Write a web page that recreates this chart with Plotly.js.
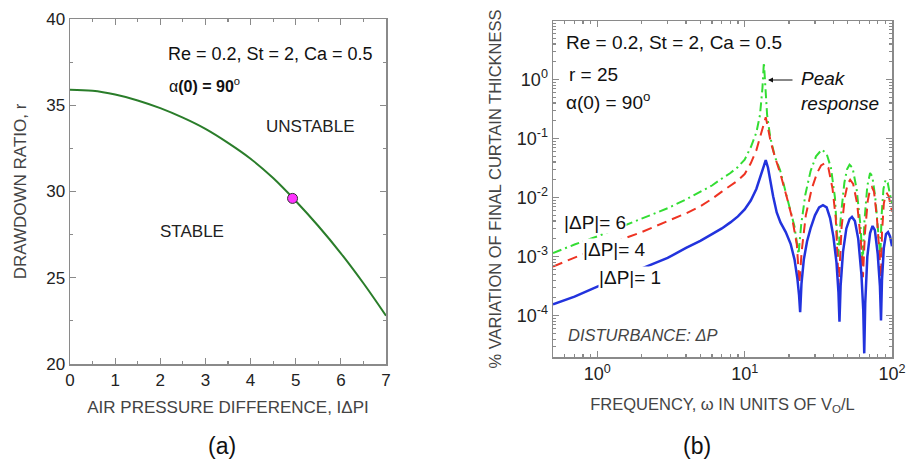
<!DOCTYPE html>
<html>
<head>
<meta charset="utf-8">
<script src="https://cdn.plot.ly/plotly-3.0.1.min.js"></script>
<style>html,body{margin:0;padding:0;background:#fff;}#chart{width:908px;height:466px;}</style>
</head>
<body>
<div id="chart"></div>
<script>
// ---------- Panel (a): neutral stability curve ----------
const dP_a = [0, 0.5, 1, 1.5, 2, 2.5, 3, 3.5, 4, 4.5, 5, 5.5, 6, 6.5, 7];
const r_a  = [35.9, 35.84, 35.62, 35.28, 34.83, 34.28, 33.63, 32.82, 31.9, 30.78, 29.45, 28.0, 26.42, 24.68, 22.8];
const dotX = [4.93];
const dotY = [29.6];

// ---------- Panel (b): frequency response ----------
const w1 = [0.5, 0.7, 1, 1.5, 2, 3, 4, 5, 6, 7, 8, 9, 10, 11, 12, 12.8, 13.4, 13.9, 14.4, 15, 15.6, 16.5, 17.5, 19, 20.5, 21.8, 22.8, 23.4, 23.8, 24.3, 25.2, 26.5, 28, 30, 32, 34, 36, 38, 40, 42, 43.3, 44, 44.8, 46.5, 49, 51.5, 53.5, 56, 59, 62, 63.8, 64.8, 65.8, 68, 71, 73.8, 76.5, 80, 82.8, 84.2, 85.5, 88, 91, 94, 97, 100];
const v1 = [1.55e-4, 2.1e-4, 3.1e-4, 4.7e-4, 6.2e-4, 9.5e-4, 1.4e-3, 1.85e-3, 2.4e-3, 3.0e-3, 3.8e-3, 4.8e-3, 6.3e-3, 8.9e-3, 0.014, 0.023, 0.034, 0.043, 0.032, 0.018, 0.0105, 5.6e-3, 3.8e-3, 2.6e-3, 1.65e-3, 8.9e-4, 4.2e-4, 2.2e-4, 1.15e-4, 3.5e-4, 8.9e-4, 1.8e-3, 3.0e-3, 5.0e-3, 6.8e-3, 7.4e-3, 6.8e-3, 4.5e-3, 2.2e-3, 7.9e-4, 2.5e-4, 7.9e-5, 3.2e-4, 1.2e-3, 3.0e-3, 4.3e-3, 4.7e-3, 4.0e-3, 2.0e-3, 5.0e-4, 1.26e-4, 2.3e-5, 1.6e-4, 1.0e-3, 2.5e-3, 3.3e-3, 2.8e-3, 1.1e-3, 3.2e-4, 8.3e-5, 4.0e-4, 1.4e-3, 2.4e-3, 2.6e-3, 2.2e-3, 1.5e-3];

const w4 = [0.5, 0.7, 1, 1.5, 2, 3, 4, 5, 6, 7, 8, 9, 10, 11, 12, 12.8, 13.4, 13.9, 14.4, 15, 16, 17.5, 19.3, 21, 22.6, 23.5, 24.4, 26, 28.5, 31, 33, 35, 37, 39.5, 41.5, 43.5, 45.5, 48, 50, 52, 54.5, 58, 61.5, 63.5, 65.5, 68.5, 71, 73, 75.5, 79, 82.5, 84, 85.5, 88, 90.5, 92.5, 95, 100];
const v4 = [6.8e-4, 9.5e-4, 1.38e-3, 2.0e-3, 2.6e-3, 4.0e-3, 5.4e-3, 7.1e-3, 9.5e-3, 0.0126, 0.0158, 0.0195, 0.025, 0.038, 0.063, 0.107, 0.166, 0.23, 0.15, 0.089, 0.05, 0.025, 0.0102, 4.5e-3, 1.6e-3, 3.5e-4, 1.26e-3, 5.0e-3, 0.014, 0.026, 0.035, 0.038, 0.032, 0.014, 4.5e-3, 3.2e-4, 3.2e-3, 0.0105, 0.017, 0.02, 0.017, 7.9e-3, 1.8e-3, 4.5e-4, 2.5e-3, 8.9e-3, 0.0138, 0.015, 0.0126, 4.5e-3, 1.0e-3, 3.2e-4, 2.5e-3, 7.9e-3, 0.0112, 0.0117, 0.0105, 5.8e-3];

const w6 = [0.5, 0.7, 1, 1.5, 2, 3, 4, 5, 6, 7, 8, 9, 10, 11, 12, 12.7, 13.2, 13.5, 13.8, 14.2, 14.9, 16, 17.4, 18.8, 20.3, 21.8, 23.2, 24.2, 25.8, 28, 30.5, 33.4, 36, 38.5, 41, 43.2, 45, 47.5, 49.5, 51.5, 54, 57.5, 61, 63.3, 65, 68, 71, 73.5, 77, 80.5, 83.3, 85, 87.5, 90.5, 93.5, 97, 100];
const v6 = [1.15e-3, 1.6e-3, 2.2e-3, 3.3e-3, 4.4e-3, 6.6e-3, 9.3e-3, 0.0126, 0.016, 0.021, 0.026, 0.033, 0.044, 0.071, 0.126, 0.25, 0.71, 1.95, 0.8, 0.25, 0.107, 0.05, 0.029, 0.014, 6.9e-3, 3.2e-3, 1.1e-3, 3.5e-3, 0.0112, 0.028, 0.05, 0.065, 0.055, 0.032, 0.01, 1.0e-3, 5.0e-3, 0.0178, 0.030, 0.036, 0.032, 0.014, 3.5e-3, 7.9e-4, 4.0e-3, 0.0158, 0.026, 0.023, 0.01, 3.2e-3, 1.0e-3, 5.0e-3, 0.014, 0.020, 0.0178, 0.0112, 7.9e-3];

const xTickVals_b = [1, 10, 100];
const xTickText_b = ['10<sup>0</sup>', '10<sup>1</sup>', '10<sup>2</sup>'];
const yTickVals_b = [1e-4, 1e-3, 1e-2, 1e-1, 1];
const yTickText_b = ['10<sup>-4</sup>', '10<sup>-3</sup>', '10<sup>-2</sup>', '10<sup>-1</sup>', '10<sup>0</sup>'];

const FONT = 'Liberation Sans, Arial, Helvetica, sans-serif';
const AX = '#8a8a8a';

const traces = [
  {x: dP_a, y: r_a, type: 'scatter', mode: 'lines', line: {color: '#2a7d2a', width: 2, shape: 'spline'}, xaxis: 'x', yaxis: 'y', hoverinfo: 'skip'},
  {x: dotX, y: dotY, type: 'scatter', mode: 'markers', marker: {color: '#ff33ff', size: 10, line: {color: '#333', width: 1}}, xaxis: 'x', yaxis: 'y'},
  {x: w6, y: v6, type: 'scatter', mode: 'lines', name: '|ΔP|= 6', line: {color: '#33dd33', width: 2, dash: '9px,4px,2px,4px'}, xaxis: 'x2', yaxis: 'y2'},
  {x: w4, y: v4, type: 'scatter', mode: 'lines', name: '|ΔP|= 4', line: {color: '#ee3322', width: 2, dash: '10px,6px'}, xaxis: 'x2', yaxis: 'y2'},
  {x: w1, y: v1, type: 'scatter', mode: 'lines', name: '|ΔP|= 1', line: {color: '#2233dd', width: 2.5}, xaxis: 'x2', yaxis: 'y2'}
];

const common = {
  showline: true, linecolor: AX, linewidth: 1.5, mirror: 'ticks',
  ticks: 'inside', ticklen: 6, tickwidth: 1.2, tickcolor: AX,
  showgrid: false, zeroline: false,
  tickfont: {family: FONT, size: 17, color: '#222'}
};

function note(px, py, text, size, opts) {
  return Object.assign({xref: 'paper', yref: 'paper', x: px / 908, y: 1 - py / 466,
    xanchor: 'center', yanchor: 'middle', text: text, showarrow: false,
    font: {family: FONT, size: size, color: '#111'}}, opts || {});
}

const layout = {
  width: 908, height: 466,
  margin: {l: 0, r: 0, t: 0, b: 0},
  paper_bgcolor: '#fff', plot_bgcolor: '#fff',
  showlegend: false,
  font: {family: FONT, color: '#222'},
  xaxis: Object.assign({}, common, {
    domain: [70/908, 386/908], anchor: 'y', range: [0, 7], dtick: 1, tick0: 0,
    minor: {dtick: 0.5, ticks: 'inside', ticklen: 3, tickcolor: AX},
    title: {text: 'AIR PRESSURE DIFFERENCE, IΔPI', font: {family: FONT, size: 17, color: '#444'}, standoff: 12}
  }),
  yaxis: Object.assign({}, common, {
    domain: [1 - 364/466, 1 - 19/466], anchor: 'x', range: [20, 40], dtick: 5, tick0: 20,
    minor: {dtick: 2.5, ticks: 'inside', ticklen: 3, tickcolor: AX},
    title: {text: 'DRAWDOWN RATIO, r', font: {family: FONT, size: 17, color: '#444'}, standoff: 15}
  }),
  xaxis2: Object.assign({}, common, {
    domain: [553/908, 892/908], anchor: 'y2', type: 'log', range: [Math.log10(0.5), 2],
    tickmode: 'array', tickvals: xTickVals_b, ticktext: xTickText_b,
    tickfont: {family: FONT, size: 18, color: '#222'},
    minor: {dtick: 'D1', ticks: 'inside', ticklen: 3, tickcolor: AX},
    title: {text: 'FREQUENCY, ω IN UNITS OF V<sub>O</sub>/L', font: {family: FONT, size: 16.5, color: '#444'}, standoff: 15}
  }),
  yaxis2: Object.assign({}, common, {
    domain: [1 - 357/466, 1 - 21/466], anchor: 'x2', type: 'log', range: [-4.7, 0.99],
    tickmode: 'array', tickvals: yTickVals_b, ticktext: yTickText_b,
    tickfont: {family: FONT, size: 18, color: '#222'},
    minor: {dtick: 'D1', ticks: 'inside', ticklen: 3, tickcolor: AX},
    title: {text: '% VARIATION OF FINAL CURTAIN THICKNESS', font: {family: FONT, size: 16.5, color: '#444'}, standoff: 11}
  }),
  annotations: [
    // panel a
    note(270, 54, 'Re = 0.2, St = 2, Ca = 0.5', 18),
    note(167, 85, 'α<b>(0) = 90</b><sup>o</sup>', 16, {xanchor: 'left'}),
    note(310, 126, 'UNSTABLE', 17, {font: {family: FONT, size: 17, color: '#222'}}),
    note(192, 231, 'STABLE', 17, {font: {family: FONT, size: 17, color: '#222'}}),
    note(222, 446, '(a)', 23),
    // panel b
    note(564, 42, 'Re = 0.2, St = 2, Ca = 0.5', 19, {xanchor: 'left'}),
    note(567, 74, 'r = 25', 19, {xanchor: 'left'}),
    note(564, 101, 'α(0) = 90<sup>o</sup>', 19, {xanchor: 'left'}),
    note(799, 91, '<i>Peak</i><br><i>response</i>', 19, {xanchor: 'left', align: 'left'}),
    {xref: 'paper', yref: 'paper', x: 768/908, y: 1 - 80/466, axref: 'pixel', ayref: 'pixel', ax: 26, ay: 0, text: '', showarrow: true, arrowhead: 2, arrowsize: 1, arrowwidth: 1, arrowcolor: '#111'},
    note(595, 222, '|ΔP|= 6', 19, {bgcolor: '#ffffff', borderpad: 0}),
    note(614, 250, '|ΔP|= 4', 19, {bgcolor: '#ffffff', borderpad: 0}),
    note(630, 277, '|ΔP|= 1', 19, {bgcolor: '#ffffff', borderpad: 0}),
    note(566, 335, '<i>DISTURBANCE: ΔP</i>', 16.5, {xanchor: 'left', font: {family: FONT, size: 16.5, color: '#444'}}),
    note(697, 446, '(b)', 23)
  ]
};

Plotly.newPlot('chart', traces, layout, {displayModeBar: false, staticPlot: true});
</script>
</body>
</html>
